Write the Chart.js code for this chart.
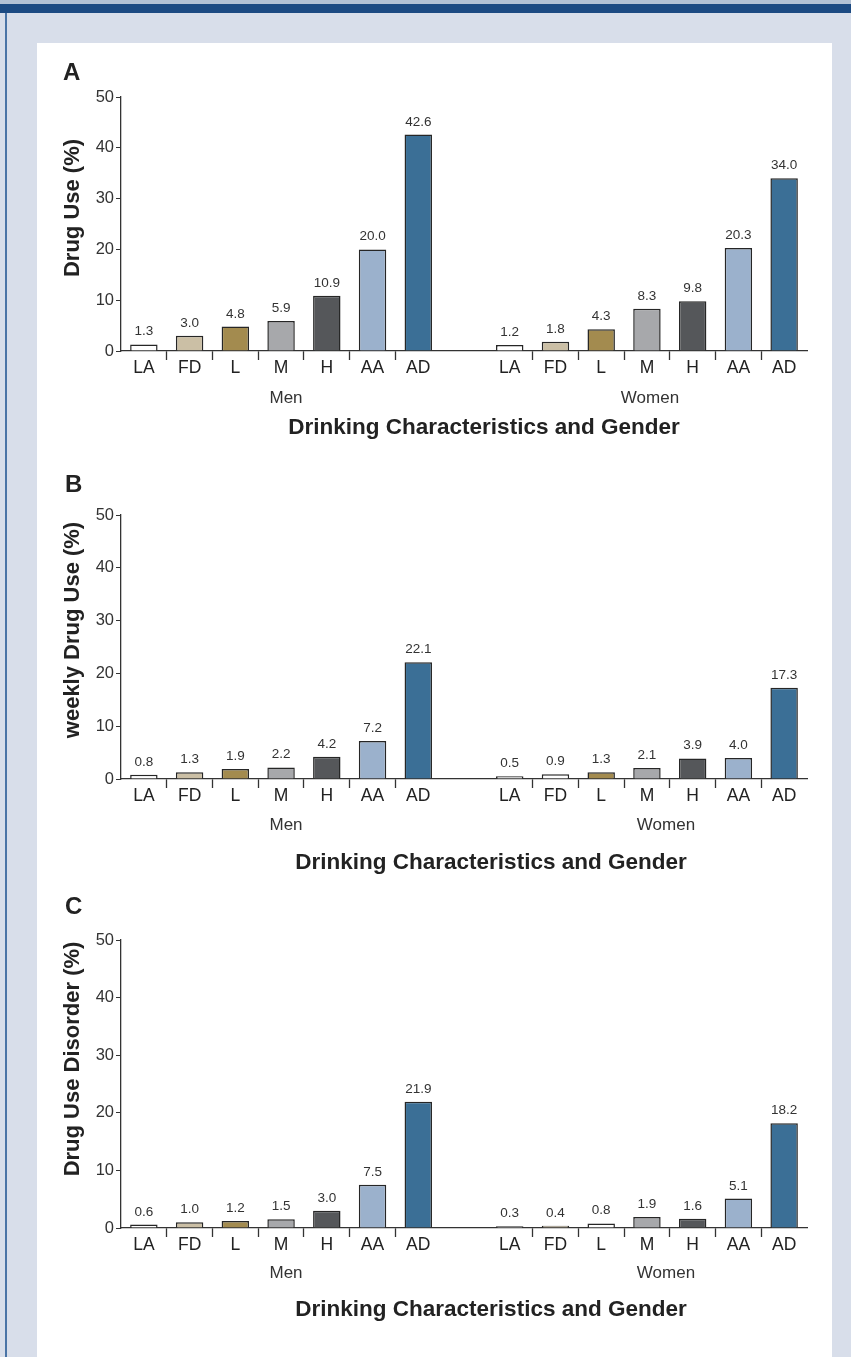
<!DOCTYPE html>
<html>
<head>
<meta charset="utf-8">
<script src="https://cdn.jsdelivr.net/npm/chart.js@4.4.1/dist/chart.umd.min.js"></script>
<style>
  html, body { margin: 0; padding: 0; }
  body {
    width: 851px; height: 1357px; position: relative; overflow: hidden;
    background: #d8deea;
    font-family: "Liberation Sans", Arial, sans-serif;
  }
  #topband { position: absolute; left: 0; top: 0; width: 851px; height: 4px; background: #b3c1d4; }
  #topbar { position: absolute; left: 0; top: 4px; width: 851px; height: 9px; background: #1c4a82; }
  #leftline { position: absolute; left: 5px; top: 13px; width: 2px; height: 1344px; background: #4a74a6; }
  #panel { position: absolute; left: 37px; top: 43px; width: 795px; height: 1314px; background: #fff; }
  canvas { position: absolute; left: 0; }
</style>
</head>
<body>
<div id="topband"></div>
<div id="topbar"></div>
<div id="leftline"></div>
<div id="panel"></div>
<canvas id="chartA" width="851" height="432" style="top:43px"></canvas>
<canvas id="chartB" width="851" height="420" style="top:475px"></canvas>
<canvas id="chartC" width="851" height="462" style="top:895px"></canvas>

<script>
// drinking categories (same for men and women)
const drinkCats = ['LA', 'FD', 'L', 'M', 'H', 'AA', 'AD'];
const yTicks = [0, 10, 20, 30, 40, 50];

// A: drug use (%)
const drugUseMen   = [1.3, 3.0, 4.8, 5.9, 10.9, 20.0, 42.6];
const drugUseWomen = [1.2, 1.8, 4.3, 8.3, 9.8, 20.3, 34.0];
// B: weekly drug use (%)
const weeklyMen   = [0.8, 1.3, 1.9, 2.2, 4.2, 7.2, 22.1];
const weeklyWomen = [0.5, 0.9, 1.3, 2.1, 3.9, 4.0, 17.3];
// C: drug use disorder (%)
const disorderMen   = [0.6, 1.0, 1.2, 1.5, 3.0, 7.5, 21.9];
const disorderWomen = [0.3, 0.4, 0.8, 1.9, 1.6, 5.1, 18.2];

const FONT = '"Liberation Sans", Arial, sans-serif';
const INK = '#222';

const palette = {
  LA: '#ffffff', FD: '#cbbfa5', L: '#a38b4f', M: '#a7a8ab',
  H: '#55575a', AA: '#9bb1cc', AD: '#3b6f96'
};

// value labels above each bar
const valueLabels = {
  id: 'valueLabels',
  afterDatasetsDraw(chart) {
    const ctx = chart.ctx;
    const data = chart.data.datasets[0].data;
    ctx.save();
    ctx.font = '13.5px ' + FONT;
    ctx.fillStyle = '#333';
    ctx.textAlign = 'center';
    ctx.textBaseline = 'alphabetic';
    chart.getDatasetMeta(0).data.forEach(function (bar, i) {
      if (data[i] == null) return;
      ctx.fillText(data[i].toFixed(1), bar.x, bar.y - 9);
    });
    ctx.restore();
  }
};

// panel letter, axis titles, group names
const panelText = {
  id: 'panelText',
  afterDraw(chart, args, o) {
    const ctx = chart.ctx;
    const area = chart.chartArea;
    ctx.save();
    ctx.fillStyle = INK;
    ctx.textBaseline = 'middle';

    ctx.font = 'bold 24px ' + FONT;
    ctx.textAlign = 'left';
    ctx.fillText(o.letter, o.letterX, area.top + o.letterDy);

    ctx.save();
    ctx.translate(73, (area.top + area.bottom) / 2 + o.yTitleDy);
    ctx.rotate(-Math.PI / 2);
    ctx.font = 'bold 22px ' + FONT;
    ctx.textAlign = 'center';
    ctx.fillText(o.yTitle, 0, 0);
    ctx.restore();

    ctx.font = '17px ' + FONT;
    ctx.textAlign = 'center';
    ctx.fillStyle = '#333';
    ctx.fillText('Men', o.menX, area.bottom + o.groupDy);
    ctx.fillText('Women', o.womenX, area.bottom + o.groupDy);

    ctx.fillStyle = INK;
    ctx.font = 'bold 22.5px ' + FONT;
    ctx.fillText('Drinking Characteristics and Gender', o.titleX, area.bottom + o.titleDy);
    ctx.restore();
  }
};

function makePanel(id, men, women, text, padTop, xHeight, overrides) {
  const labels = drinkCats.concat([''], drinkCats);
  const values = men.concat([null], women);
  const colors = labels.map(function (c) { return palette[c] || '#fff'; });
  (overrides || []).forEach(function (ov) { colors[ov[0]] = ov[1]; });

  return new Chart(document.getElementById(id), {
    type: 'bar',
    data: {
      labels: labels,
      datasets: [{
        data: values,
        backgroundColor: colors,
        borderColor: '#262626',
        borderWidth: 1.5,
        barPercentage: 0.6,
        categoryPercentage: 1.0
      }]
    },
    options: {
      responsive: false,
      animation: false,
      layout: { padding: { left: 0, right: 44, top: padTop, bottom: 0 } },
      plugins: {
        legend: { display: false },
        tooltip: { enabled: false },
        panelText: text
      },
      scales: {
        x: {
          offset: true,
          afterFit: function (s) { s.height = xHeight; },
          border: { display: true, color: '#333', width: 1.3 },
          grid: {
            offset: true,
            drawOnChartArea: false,
            tickLength: 9,
            tickWidth: 1.3,
            tickColor: function (c) {
              const i = c.index;
              return ((i >= 1 && i <= 6) || (i >= 9 && i <= 14)) ? '#333' : 'rgba(0,0,0,0)';
            }
          },
          ticks: {
            autoSkip: false, maxRotation: 0, padding: -2,
            color: INK, font: { family: FONT, size: 17.5 }
          }
        },
        y: {
          min: 0, max: 50,
          afterFit: function (s) { s.width = 121; },
          afterBuildTicks: function (s) { s.ticks = yTicks.map(function (v) { return { value: v }; }); },
          border: { display: true, color: '#333', width: 1.3 },
          grid: { drawOnChartArea: false, tickLength: 5, tickColor: '#333' },
          ticks: { padding: 2, color: '#333', font: { family: FONT, size: 16.5 } }
        }
      }
    },
    plugins: [valueLabels, panelText]
  });
}

makePanel('chartA', drugUseMen, drugUseWomen, {
  letter: 'A', letterX: 63, letterDy: -24, yTitle: 'Drug Use (%)', yTitleDy: -16,
  menX: 286, womenX: 650, groupDy: 47, titleX: 484, titleDy: 77
}, 54, 124);

makePanel('chartB', weeklyMen, weeklyWomen, {
  letter: 'B', letterX: 65, letterDy: -30, yTitle: 'weekly Drug Use (%)', yTitleDy: -17,
  menX: 286, womenX: 666, groupDy: 46, titleX: 491, titleDy: 84
}, 40, 116, [[9, '#ffffff']]);

makePanel('chartC', disorderMen, disorderWomen, {
  letter: 'C', letterX: 65, letterDy: -33, yTitle: 'Drug Use Disorder (%)', yTitleDy: -25,
  menX: 286, womenX: 666, groupDy: 45, titleX: 491, titleDy: 82
}, 45, 129, [[10, '#ffffff']]);
</script>
</body>
</html>
